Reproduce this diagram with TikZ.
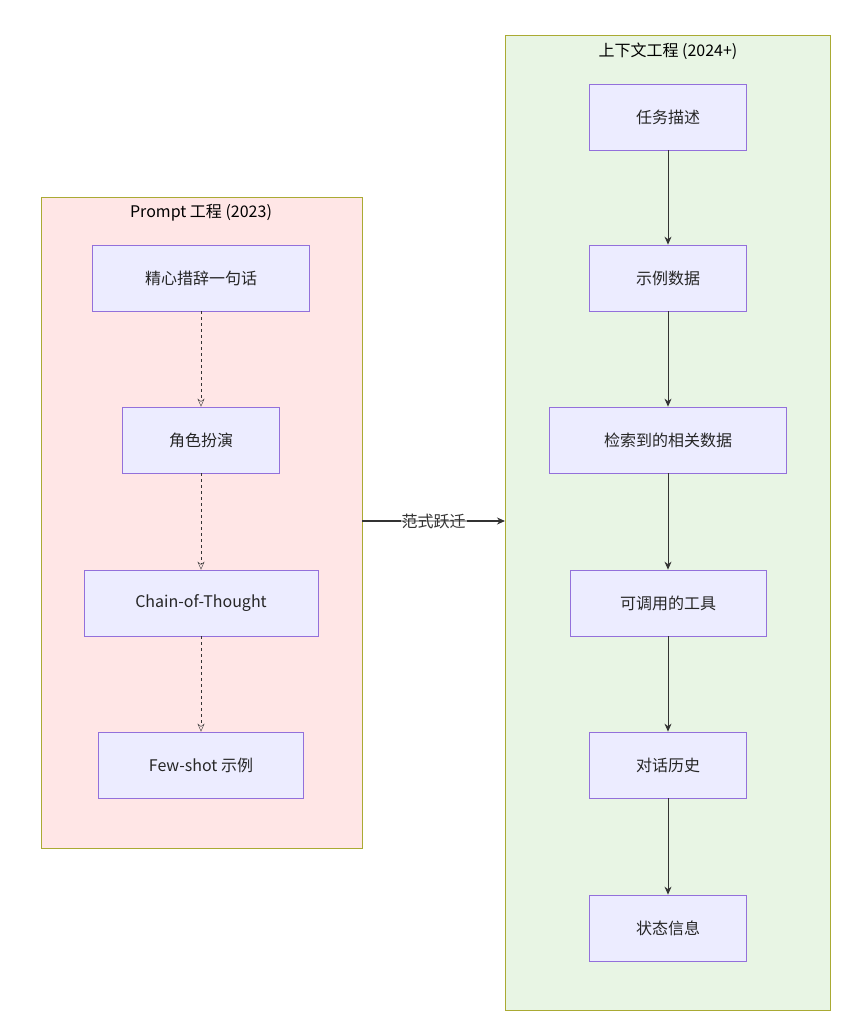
\documentclass[tikz,border=0pt]{standalone}
\usepackage{fontspec}
\setmainfont{Noto Sans CJK SC}
\usetikzlibrary{arrows.meta}
\definecolor{boxfill}{HTML}{ECECFF}
\definecolor{boxline}{HTML}{9370DB}
\definecolor{pinkbg}{HTML}{FFE6E6}
\definecolor{greenbg}{HTML}{E8F5E4}
\definecolor{clline}{HTML}{AAAA33}
\begin{document}
\begin{tikzpicture}[x=1pt,y=-1pt,
    stage/.style={draw=boxline, fill=boxfill, thick, minimum height=66pt, font=\fontsize{16}{19}\selectfont, text=black!85},
    flow/.style={->, >={Stealth[length=8pt,width=7pt]}, black!80, thick},
    soft/.style={flow, dashed, thin, >={Stealth[open,length=8pt,width=7pt]}}]
\useasboundingbox (0,0) rectangle (857,1031);

% Prompt cluster
\draw[clline, fill=pinkbg] (41,197) rectangle (362,848);
\node[font=\fontsize{16}{19}\selectfont] (ptitle) at (201,213) {Prompt 工程 (2023)};
\node[stage, minimum width=217pt] (wording) at (201,278) {精心措辞一句话};
\node[stage, minimum width=157pt] (role) at (201,440) {角色扮演};
\node[stage, minimum width=234pt] (cot) at (201,603) {Chain-of-Thought};
\node[stage, minimum width=205pt] (fewshot) at (201,765) {Few-shot 示例};
\draw[soft] (wording) -- (role);
\draw[soft] (role) -- (cot);
\draw[soft] (cot) -- (fewshot);

% Context cluster
\draw[clline, fill=greenbg] (505,35) rectangle (830,1010);
\node[font=\fontsize{16}{19}\selectfont] (ctitle) at (668,51) {上下文工程 (2024+)};
\node[stage, minimum width=157pt] (task) at (668,117) {任务描述};
\node[stage, minimum width=157pt] (sample) at (668,278) {示例数据};
\node[stage, minimum width=237pt] (retrieved) at (668,440) {检索到的相关数据};
\node[stage, minimum width=196pt] (tools) at (668,603) {可调用的工具};
\node[stage, minimum width=157pt] (history) at (668,765) {对话历史};
\node[stage, minimum width=157pt] (state) at (668,928) {状态信息};
\draw[flow] (task) -- (sample);
\draw[flow] (sample) -- (retrieved);
\draw[flow] (retrieved) -- (tools);
\draw[flow] (tools) -- (history);
\draw[flow] (history) -- (state);

% Shift
\coordinate (lft) at (362,521);
\coordinate (rgt) at (505,521);
\draw[flow, very thick] (lft) -- node[fill=white, fill opacity=0.6, text opacity=1, inner sep=1pt, font=\fontsize{16}{19}\selectfont] (shift) {范式跃迁} (rgt);
\end{tikzpicture}
\end{document}
